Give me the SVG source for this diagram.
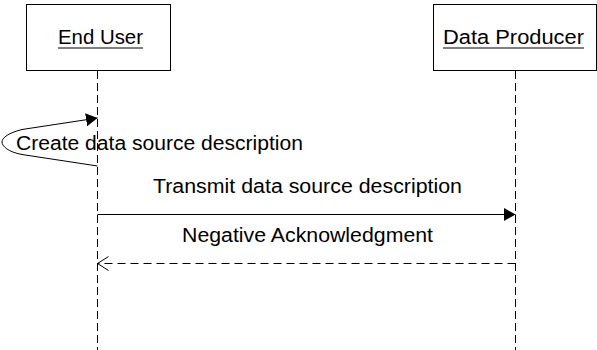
<svg xmlns="http://www.w3.org/2000/svg" width="597" height="350" viewBox="0 0 597 350">
<style>
.box{fill:#fff;stroke:#000;stroke-width:1}
.lbl{font-family:"Liberation Sans",Arial,sans-serif;font-size:19.5px;fill:#000}
.life{stroke:#000;stroke-width:1;stroke-dasharray:8,4;fill:none}
.msg{stroke:#000;stroke-width:1;fill:none}
.ret{stroke:#000;stroke-width:1;stroke-dasharray:8,5;fill:none}
</style>
<defs>
<marker id="filled" markerWidth="13" markerHeight="14" refX="11.5" refY="6.5" orient="auto" markerUnits="userSpaceOnUse">
<path d="M0,0 L11.5,6.5 L0,13 Z" fill="#000"/>
</marker>
<marker id="open" markerWidth="12" markerHeight="16" refX="11" refY="8" orient="auto" markerUnits="userSpaceOnUse">
<path d="M0,1 L11,8 L0,15" fill="none" stroke="#000" stroke-width="1"/>
</marker>
</defs>
<g id="node-end-user">
<rect class="box" x="26.5" y="4.5" width="144" height="66"/>
<text class="lbl" x="58" y="44" textLength="85" lengthAdjust="spacingAndGlyphs">End User</text>
<line x1="58" y1="48" x2="143" y2="48" stroke="#000" stroke-width="1.2"/>
<line class="life" x1="97.5" y1="71" x2="97.5" y2="350"/>
</g>
<g id="node-data-producer">
<rect class="box" x="433.5" y="4.5" width="163" height="66"/>
<text class="lbl" x="443" y="44" textLength="141" lengthAdjust="spacingAndGlyphs">Data Producer</text>
<line x1="443" y1="48" x2="584" y2="48" stroke="#000" stroke-width="1.2"/>
<line class="life" x1="515.5" y1="71" x2="515.5" y2="350"/>
</g>
<g id="connectors">
<path class="msg" d="M97.5,166 L22,154.5 C8,152 2,146 2,142 C2,138 8,133 22,129.5 L97.5,118" marker-end="url(#filled)"/>
<text class="lbl" x="16" y="150" textLength="287" lengthAdjust="spacingAndGlyphs">Create data source description</text>
<line class="msg" x1="97.5" y1="214.5" x2="515.5" y2="214.5" marker-end="url(#filled)"/>
<text class="lbl" x="153" y="193" textLength="309" lengthAdjust="spacingAndGlyphs">Transmit data source description</text>
<line class="ret" x1="515.5" y1="263.5" x2="97.5" y2="263.5" marker-end="url(#open)"/>
<text class="lbl" x="182" y="242" textLength="251" lengthAdjust="spacingAndGlyphs">Negative Acknowledgment</text>
</g>
</svg>
